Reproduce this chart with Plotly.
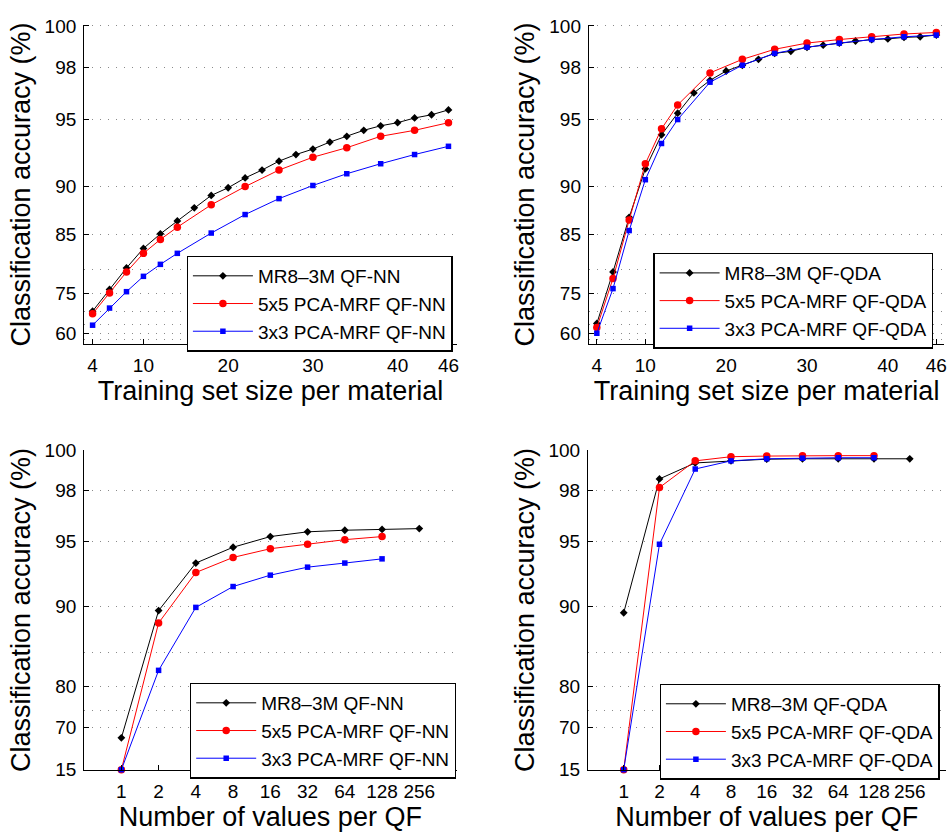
import numpy as np
import plotly.graph_objects as go

# ---------------- data ----------------
train_all = [4, 6, 8, 10, 12, 14, 16, 18, 20, 22, 24, 26, 28, 30, 32, 34, 36, 38, 40, 42, 44, 46]
train_sub = [4, 6, 8, 10, 12, 14, 18, 22, 26, 30, 34, 38, 42, 46]

nn_mr8 = [70.1, 76.0, 80.2, 83.2, 85.1, 86.6, 88.0, 89.2, 89.9, 90.75, 91.4, 92.1, 92.6, 93.0,
          93.5, 93.9, 94.3, 94.6, 94.8, 95.1, 95.3, 95.6]
nn_pca5 = [69.2, 75.2, 79.5, 82.5, 84.4, 85.9, 88.3, 90.0, 91.4, 92.4, 93.1, 93.9, 94.3, 94.8]
nn_pca3 = [64.5, 71.1, 75.5, 78.7, 80.8, 82.5, 85.2, 87.3, 88.9, 90.1, 91.1, 91.9, 92.6, 93.2]

qda_mr8 = [65.3, 79.5, 87.0, 91.5, 94.0, 95.4, 96.6, 97.3, 97.8, 98.1, 98.4, 98.7, 98.8, 99.0,
           99.1, 99.2, 99.3, 99.37, 99.4, 99.47, 99.5, 99.58]
qda_pca5 = [63.4, 78.3, 86.7, 91.9, 94.4, 95.9, 97.7, 98.4, 98.9, 99.2, 99.37, 99.5, 99.63, 99.7]
qda_pca3 = [60.0, 76.2, 85.5, 90.6, 93.4, 95.0, 97.2, 98.1, 98.7, 99.0, 99.2, 99.37, 99.5, 99.58]

qf_all = [1, 2, 4, 8, 16, 32, 64, 128, 256]
qf_sub = [1, 2, 4, 8, 16, 32, 64, 128]

qnn_mr8 = [65.9, 89.6, 93.5, 94.6, 95.3, 95.6, 95.7, 95.75, 95.8]
qnn_pca5 = [15.0, 88.4, 92.8, 93.9, 94.5, 94.8, 95.1, 95.3]
qnn_pca3 = [15.0, 82.6, 89.9, 91.7, 92.6, 93.2, 93.5, 93.8]

qqda_mr8 = [89.4, 98.6, 99.4, 99.5, 99.58, 99.6, 99.6, 99.6, 99.6]
qqda_pca5 = [15.0, 98.15, 99.5, 99.7, 99.73, 99.75, 99.75, 99.75]
qqda_pca3 = [15.0, 94.8, 99.1, 99.5, 99.6, 99.63, 99.65, 99.65]

top_ylabels = [60, 75, 85, 90, 95, 98, 100]
top_yminor = [55, 65, 70, 80]
bot_ylabels = [15, 70, 80, 90, 95, 98, 100]
bot_yminor = [75, 85]
train_ticks = [4, 10, 20, 30, 40, 46]

names_nn = ["MR8\u20133M QF-NN", "5x5 PCA-MRF QF-NN", "3x3 PCA-MRF QF-NN"]
names_qda = ["MR8\u20133M QF-QDA", "5x5 PCA-MRF QF-QDA", "3x3 PCA-MRF QF-QDA"]


# accuracy axis is drawn on an exponential scale (stretches high accuracies)
def T(v):
    return np.exp(np.asarray(v, dtype=float) / 15.0)


W, H = 951, 836
FONT = "Liberation Sans, Arial, Helvetica, sans-serif"

fig = go.Figure()

styles = [
    dict(color="black", symbol="diamond", size=6),
    dict(color="#ff0000", symbol="circle", size=7.5),
    dict(color="#0000ff", symbol="square", size=5.5),
]

panels = [
    ("x", "y", "legend", [(train_all, nn_mr8), (train_sub, nn_pca5), (train_sub, nn_pca3)], names_nn),
    ("x2", "y2", "legend2", [(train_all, qda_mr8), (train_sub, qda_pca5), (train_sub, qda_pca3)], names_qda),
    ("x3", "y3", "legend3", [(qf_all, qnn_mr8), (qf_sub, qnn_pca5), (qf_sub, qnn_pca3)], names_nn),
    ("x4", "y4", "legend4", [(qf_all, qqda_mr8), (qf_sub, qqda_pca5), (qf_sub, qqda_pca3)], names_qda),
]

for xa, ya, lg, series, names in panels:
    for (xs, ys), st, nm in zip(series, styles, names):
        fig.add_trace(go.Scatter(
            x=xs, y=T(ys), mode="lines+markers", name=nm,
            xaxis=xa, yaxis=ya, legend=lg, cliponaxis=False,
            line=dict(color=st["color"], width=1),
            marker=dict(color=st["color"], symbol=st["symbol"], size=st["size"]),
        ))


def px_dom_x(a, b):
    return [a / W, b / W]


def px_dom_y(top, bottom):
    return [1 - bottom / H, 1 - top / H]


common_axis = dict(
    showline=True, linecolor="black", linewidth=1, mirror=False,
    ticks="inside", ticklen=5, tickcolor="black", tickwidth=1,
    zeroline=False, tickfont=dict(size=19, color="black", family=FONT),
)

grid = dict(gridcolor="#8a8a8a", griddash="1px,7px", gridwidth=1)


def yaxis(domain, lo, hi, labels, minor, anchor):
    return dict(
        domain=domain, anchor=anchor, range=[float(T(lo)), float(hi)],
        tickmode="array", tickvals=T(labels).tolist(), ticktext=[str(v) for v in labels],
        showgrid=True, ticklabelstandoff=3, **grid,
        minor=dict(tickmode="array", tickvals=T(minor).tolist(), showgrid=True,
                   gridcolor=grid["gridcolor"], griddash=grid["griddash"], gridwidth=1, ticks=""),
        title=dict(text="Classification accuracy (%)", font=dict(size=27, color="black", family=FONT),
                   standoff=6),
        **common_axis,
    )


def xaxis_lin(domain, anchor):
    return dict(
        domain=domain, anchor=anchor, range=[3, 47], tickmode="array",
        tickvals=train_ticks, ticktext=[str(v) for v in train_ticks], showgrid=False,
        ticklabelstandoff=4,
        title=dict(text="Training set size per material", font=dict(size=27, color="black", family=FONT),
                   standoff=2),
        **common_axis,
    )


def xaxis_log(domain, anchor):
    return dict(
        domain=domain, anchor=anchor, type="log", range=[np.log10(0.5), np.log10(512)],
        tickmode="array", tickvals=qf_all, ticktext=[str(v) for v in qf_all], showgrid=False,
        ticklabelstandoff=4,
        title=dict(text="Number of values per QF", font=dict(size=27, color="black", family=FONT),
                   standoff=3),
        **common_axis,
    )


top_dom = px_dom_y(15, 343)
bot_dom = px_dom_y(451.7, 779.3)
left_dom = px_dom_x(84.3, 457.9)
right_dom = px_dom_x(590, 946.4)
bleft_dom = px_dom_x(84.3, 457.5)
bright_dom = px_dom_x(589.2, 947.5)

top_hi = float(T(100.06))
bot_hi = float(T(100))

legend_common = dict(
    bgcolor="white", bordercolor="black", borderwidth=1.3,
    font=dict(size=19, color="black", family=FONT),
    itemwidth=60, xanchor="left", yanchor="top", tracegroupgap=0,
    itemclick=False, itemdoubleclick=False,
)

fig.update_layout(
    width=W, height=H, margin=dict(l=0, r=0, t=0, b=0),
    paper_bgcolor="white", plot_bgcolor="white",
    font=dict(family=FONT, color="black"),
    xaxis=xaxis_lin(left_dom, "y"),
    yaxis=yaxis(top_dom, 50, top_hi, top_ylabels, top_yminor, "x"),
    xaxis2=xaxis_lin(right_dom, "y2"),
    yaxis2=yaxis(top_dom, 50, top_hi, top_ylabels, top_yminor, "x2"),
    xaxis3=xaxis_log(bleft_dom, "y3"),
    yaxis3=yaxis(bot_dom, 15, bot_hi, bot_ylabels, bot_yminor, "x3"),
    xaxis4=xaxis_log(bright_dom, "y4"),
    yaxis4=yaxis(bot_dom, 15, bot_hi, bot_ylabels, bot_yminor, "x4"),
    legend=dict(x=187 / W, y=1 - 252 / H, **legend_common),
    legend2=dict(x=654.7 / W, y=1 - 249 / H, **legend_common),
    legend3=dict(x=190.3 / W, y=1 - 690 / H, **legend_common),
    legend4=dict(x=661 / W, y=1 - 691 / H, **legend_common),
    showlegend=True,
)

fig.write_html("out.html")
